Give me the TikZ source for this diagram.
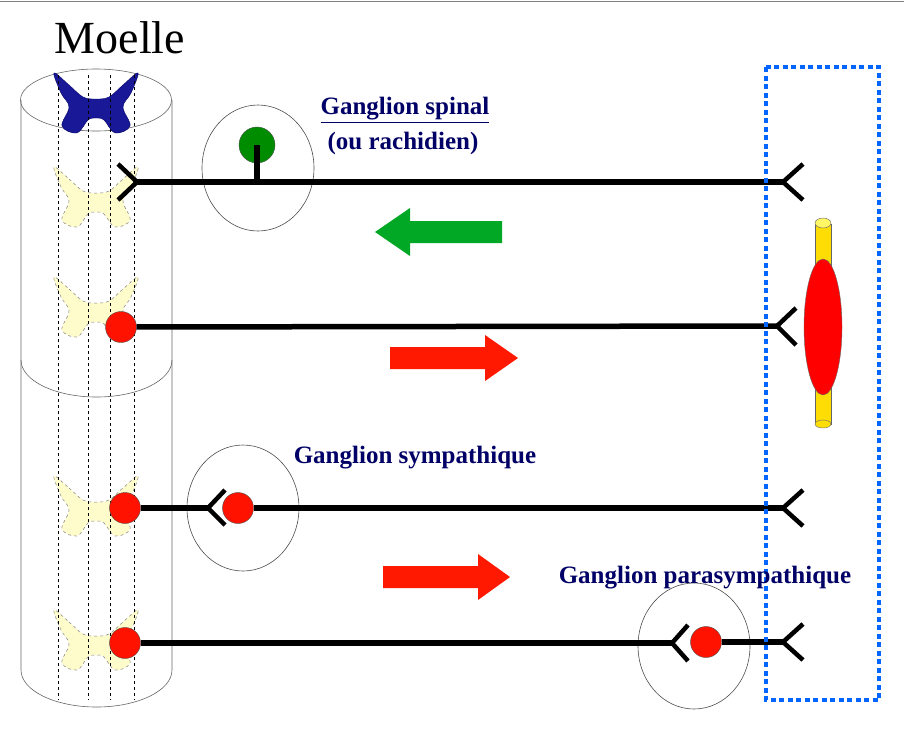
\documentclass[tikz,border=0pt]{standalone}
\usepackage{fontspec}
\setmainfont{Liberation Serif}
\begin{document}
\begin{tikzpicture}[x=1pt,y=-1pt,
  nerve/.style={line width=5.5pt},
  fork/.style={line width=4.5pt},
  gang/.style={draw=black!70,line width=0.6pt},
  soma/.style={circle,draw=black!70,fill=red!85!orange,minimum size=31pt,inner sep=0pt},
  lbl/.style={text=blue!40!black,font=\bfseries\fontsize{25}{28}\selectfont},
  guide/.style={dashed,line width=0.6pt},
  cyl/.style={draw=black!60,line width=0.6pt}]
\useasboundingbox (0,0) rectangle (904,732);
\draw[black!50] (0,1) -- (904,1);
% cylinders
\draw[cyl] (21,100) -- (21,360) arc[start angle=180,end angle=0,x radius=75.5,y radius=37] -- (172,100);
\draw[cyl] (96,100) ellipse[x radius=75.5,y radius=31];
\draw[cyl] (21,360) -- (21,670) arc[start angle=180,end angle=0,x radius=75.5,y radius=37] -- (172,360);
% butterflies
\newcommand{\bflyshape}{plot[smooth cycle,tension=0.6] coordinates {(-42,-30) (-27,-18) (-13,-6) (0,-4) (13,-6) (27,-18) (42,-30) (35,-10) (27,4) (34,23) (19,30) (8,17) (0,15) (-8,17) (-19,30) (-34,23) (-27,4) (-35,-10)}}
\begin{scope}[shift={(96,103)}]
\fill[fill=blue!55!black!90,draw=blue!40!black] \bflyshape;
\end{scope}
\foreach \yy in {197,307,506,640}{
  \begin{scope}[shift={(96,\yy)}]
  \draw[fill=yellow!20,draw=black!50,dashed,line width=0.5pt] \bflyshape;
  \end{scope}
}
\foreach \xx in {58,88,110,134}
  \draw[guide] (\xx,75) -- (\xx,700);
% ganglion circles
\draw[gang] (258,168) ellipse[x radius=56,y radius=63];
\draw[gang] (243,508) ellipse[x radius=56,y radius=63];
\draw[gang] (694,646) ellipse[x radius=56,y radius=63];
% neurons
\coordinate (r1) at (137,182); \coordinate (e1) at (783,182);
\draw[nerve] (r1) -- (e1);
\draw[fork] (118,164) -- (r1) -- (118,200);
\draw[fork] (803,164) -- (e1) -- (803,200);
\node[circle,draw=black!70,fill=green!55!black,minimum size=36pt,inner sep=0pt] (g) at (257,145) {};
\coordinate (gb) at (257,182);
\draw[nerve] (g.center) -- (gb);

\node[soma] (m1) at (121,327) {};
\coordinate (e2) at (777,326);
\draw[nerve] (m1) -- (e2);
\draw[fork] (796,308) -- (e2) -- (796,345);

\node[soma] (s1) at (125,508) {};
\coordinate (f3) at (208,508);
\draw[nerve] (s1) -- (f3);
\draw[fork] (225,490) -- (f3) -- (225,525);
\node[soma] (s2) at (238,508) {};
\coordinate (e3) at (783,508);
\draw[nerve] (s2) -- (e3);
\draw[fork] (803,490) -- (e3) -- (803,526);

\node[soma] (p1) at (125,643) {};
\coordinate (f4) at (672,643);
\draw[nerve] (p1) -- (f4);
\draw[fork] (688,625) -- (f4) -- (688,661);
\node[soma] (p2) at (706,642) {};
\coordinate (e4) at (783,642);
\draw[nerve] (p2) -- (e4);
\draw[fork] (803,624) -- (e4) -- (803,660);
% effector zone
\draw[blue!60!cyan,line width=4.5pt,dash pattern=on 5pt off 3.5pt] (766,67) rectangle (879,700);
% muscle
\draw[fill=yellow!80!orange,draw=black!60,line width=0.5pt] (815,224) rectangle (831,424);
\draw[fill=yellow!80!orange,draw=black!60] (823,424) ellipse[x radius=8,y radius=4];
\draw[fill=yellow!60,draw=black!60] (823,223) ellipse[x radius=8,y radius=5];
\draw[fill=red,draw=black!60] (823,327) ellipse[x radius=19,y radius=68];
% arrows
\fill[green!60!black!85!cyan] (375,232) -- (410,208) -- (410,221) -- (502,221) -- (502,243) -- (410,243) -- (410,256) -- cycle;
\fill[red!80!orange] (518,358) -- (485,335) -- (485,347) -- (390,347) -- (390,369) -- (485,369) -- (485,381) -- cycle;
\fill[red!80!orange] (510,577) -- (478,554) -- (478,566) -- (383,566) -- (383,588) -- (478,588) -- (478,600) -- cycle;
% texts
\node[font=\fontsize{46}{50}\selectfont] (t0) at (120,38) {Moelle};
\node[lbl] (t1) at (405,110) {\underline{Ganglion spinal}};
\node[lbl] (t2) at (403,143) {(ou rachidien)};
\node[lbl] (t3) at (415,458) {Ganglion sympathique};
\node[lbl] (t4) at (705,578) {Ganglion parasympathique};
\end{tikzpicture}
\end{document}
